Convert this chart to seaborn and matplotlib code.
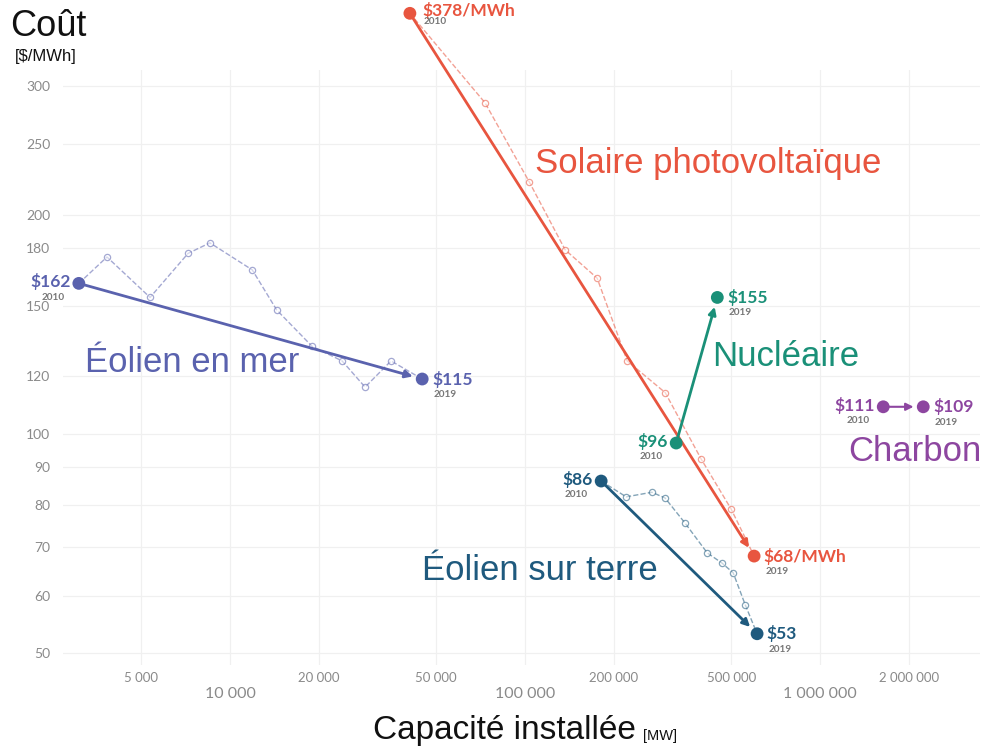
"""Coût vs capacité installée, 2010 -> 2019 (log-log)."""

import matplotlib
matplotlib.use("Agg")
import matplotlib.pyplot as plt
import numpy as np
import pandas as pd
import seaborn as sns

sns.set_theme(style="white")
plt.rcParams["font.family"] = ["Lato", "DejaVu Sans"]

# ---------------------------------------------------------------------------
# Data
# ---------------------------------------------------------------------------
series_names = ["Solaire photovoltaïque", "Éolien en mer", "Éolien sur terre",
                "Nucléaire", "Charbon"]
series_colors = ["#E8553F", "#5A62AE", "#1F5A7E", "#1A9078", "#8D46A0"]

cap_2010 = [40700, 3075, 181000, 325000, 1635000]
cost_2010 = [378, 161, 86.2, 97.2, 109]
cap_2019 = [597000, 44800, 611000, 448000, 2234000]
cost_2019 = [68, 119, 53.2, 154, 109]
label_2010 = ["$378/MWh", "$162", "$86", "$96", "$111"]
label_2019 = ["$68/MWh", "$115", "$53", "$155", "$109"]

# yearly path (dashed)
solar_cap = [40700, 73100, 103200, 136700, 175400, 221800, 298300, 395000, 499000, 597000]
solar_cost = [378, 285, 222, 179, 163.7, 126, 114, 92.4, 78.9, 68]
offshore_cap = [3075, 3830, 5360, 7210, 8550, 11900, 14400, 18960, 23980, 28690, 35130, 44800]
offshore_cost = [161, 175, 154, 177, 183, 168, 148, 132, 126, 116, 126, 119]
onshore_cap = [181000, 220000, 269000, 298000, 348000, 414000, 465000, 507000, 557000, 611000]
onshore_cost = [86.2, 82.0, 83.2, 81.7, 75.5, 68.7, 66.5, 64.5, 58.3, 53.2]

y_ticks = [50, 60, 70, 80, 90, 100, 120, 150, 180, 200, 250, 300]
x_major = [10000, 100000, 1000000]
x_minor = [5000, 20000, 50000, 200000, 500000, 2000000]

paths = pd.concat([
    pd.DataFrame({"cap": solar_cap, "cost": solar_cost, "tech": series_names[0]}),
    pd.DataFrame({"cap": offshore_cap, "cost": offshore_cost, "tech": series_names[1]}),
    pd.DataFrame({"cap": onshore_cap, "cost": onshore_cost, "tech": series_names[2]}),
], ignore_index=True)
ends = pd.DataFrame({
    "cap": cap_2010 + cap_2019,
    "cost": cost_2010 + cost_2019,
    "tech": series_names * 2,
})
palette = dict(zip(series_names, series_colors))

# ---------------------------------------------------------------------------
# Figure
# ---------------------------------------------------------------------------
fig = plt.figure(figsize=(9.84, 7.48), dpi=100)
ax = fig.add_axes([0.064, 0.111, 0.932, 0.795])
ax.set_xscale("log")
ax.set_yscale("log")
ax.set_xlim(2717, 3.48e6)
ax.set_ylim(48.2, 315.7)

# dashed yearly paths
sns.lineplot(data=paths, x="cap", y="cost", hue="tech", palette=palette,
             sort=False, estimator=None, linestyle="--", linewidth=1.0,
             alpha=0.55, marker="o", markersize=4.5, markerfacecolor="white",
             markeredgewidth=0.9, legend=False, ax=ax)
for line in ax.lines:
    line.set_markeredgecolor(line.get_color())
    line.set_markerfacecolor("white")
    line.set_clip_on(False)

# arrows 2010 -> 2019
for i, name in enumerate(series_names):
    lw = 1.5 if name == "Charbon" else 2.0
    ax.annotate("", xy=(cap_2019[i], cost_2019[i]), xytext=(cap_2010[i], cost_2010[i]),
                arrowprops=dict(arrowstyle="-|>", color=series_colors[i], lw=lw,
                                shrinkA=0, shrinkB=7, mutation_scale=11),
                annotation_clip=False)

# endpoints
sns.scatterplot(data=ends, x="cap", y="cost", hue="tech", palette=palette,
                s=85, edgecolor="none", legend=False, ax=ax, zorder=5, clip_on=False)

# value labels
val_fs = 12.5
year_fs = 7.2
for i, name in enumerate(series_names):
    c = series_colors[i]
    if i == 0:
        ax.annotate(label_2010[i], (cap_2010[i], cost_2010[i]), xytext=(9, 2),
                    textcoords="offset points", ha="left", va="center", color=c,
                    fontsize=val_fs, fontweight="bold", annotation_clip=False)
        ax.annotate("2010", (cap_2010[i], cost_2010[i]), xytext=(10, -6),
                    textcoords="offset points", ha="left", va="center", color="#777777",
                    fontsize=year_fs, fontweight="bold", annotation_clip=False)
    else:
        ax.annotate(label_2010[i], (cap_2010[i], cost_2010[i]), xytext=(-6, 1),
                    textcoords="offset points", ha="right", va="center", color=c,
                    fontsize=val_fs, fontweight="bold", annotation_clip=False)
        ax.annotate("2010", (cap_2010[i], cost_2010[i]), xytext=(-10, -10),
                    textcoords="offset points", ha="right", va="center", color="#777777",
                    fontsize=year_fs, fontweight="bold", annotation_clip=False)
    ax.annotate(label_2019[i], (cap_2019[i], cost_2019[i]), xytext=(7, 0),
                textcoords="offset points", ha="left", va="center", color=c,
                fontsize=val_fs, fontweight="bold", annotation_clip=False)
    ax.annotate("2019", (cap_2019[i], cost_2019[i]), xytext=(8, -11),
                textcoords="offset points", ha="left", va="center", color="#777777",
                fontsize=year_fs, fontweight="bold", annotation_clip=False)

# series names
name_font = ["Liberation Sans", "DejaVu Sans"]
name_pos = [(0.7195, 0.782), (0.195, 0.516), (0.549, 0.237), (0.798, 0.524), (0.93, 0.396)]
for (nx, ny), name, c in zip(name_pos, series_names, series_colors):
    ax.text(nx, ny, name, transform=fig.transFigure, ha="center", va="center",
            color=c, fontsize=25, family=name_font)

# ticks and grid
ax.set_yticks(y_ticks)
ax.set_yticklabels([str(v) for v in y_ticks])
ax.yaxis.set_minor_locator(matplotlib.ticker.NullLocator())
ax.set_xticks(x_major)
ax.set_xticklabels([f"{v:,}".replace(",", " ") for v in x_major])
ax.set_xticks(x_minor, minor=True)
ax.set_xticklabels([f"{v:,}".replace(",", " ") for v in x_minor], minor=True)
ax.tick_params(axis="y", length=0, pad=9, labelsize=10, labelcolor="#8a8a8a")
ax.tick_params(axis="x", which="major", length=0, pad=16, labelsize=11.5, labelcolor="#8a8a8a")
ax.tick_params(axis="x", which="minor", length=0, pad=5, labelsize=9.5, labelcolor="#8a8a8a")
ax.grid(True, which="both", color="#f0f0f0", linewidth=0.9)
ax.set_axisbelow(True)
for sp in ax.spines.values():
    sp.set_visible(False)
ax.set_xlabel("")
ax.set_ylabel("")

# axis titles
fig.text(0.010, 0.964, "Coût", ha="left", va="center", fontsize=26,
         family=name_font, color="#111111")
fig.text(0.015, 0.924, "[$/MWh]", ha="left", va="center", fontsize=12,
         family=name_font, color="#111111")
fig.text(0.513, 0.024, "Capacité installée", ha="center", va="center", fontsize=24,
         family=name_font, color="#111111")
fig.text(0.653, 0.016, "[MW]", ha="left", va="center", fontsize=10.5,
         family=name_font, color="#111111")

fig.savefig("out.png", dpi=100)
plt.close(fig)
